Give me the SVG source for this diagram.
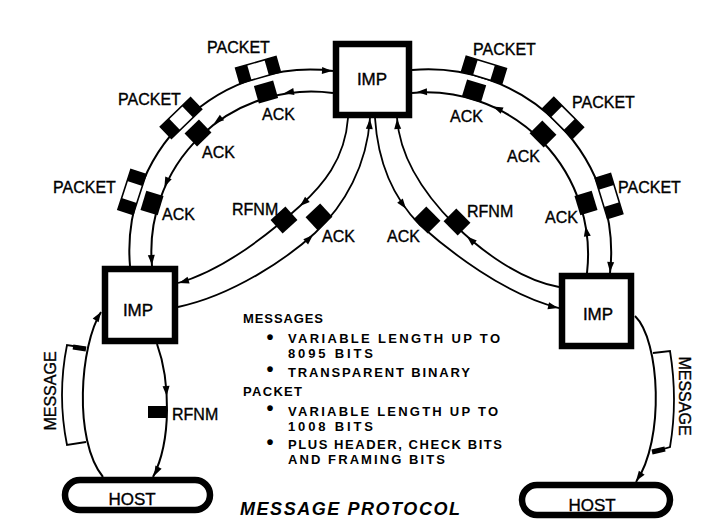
<svg xmlns="http://www.w3.org/2000/svg" width="721" height="519" viewBox="0 0 721 519">
<style>
.ln{fill:none;stroke:#000;stroke-width:2}
.ln2{fill:none;stroke:#000;stroke-width:1.8}
.box{fill:#fff;stroke:#000;stroke-width:6.5}
.lbl{font-family:"Liberation Sans",Arial,sans-serif;font-size:16px;fill:#000;stroke:#000;stroke-width:0.35}
.nm{font-family:"Liberation Sans",Arial,sans-serif;font-size:17px;fill:#000;stroke:#000;stroke-width:0.35;text-anchor:middle}
.blk{font-family:"Liberation Sans",Arial,sans-serif;font-size:13px;font-weight:bold;fill:#000}
.bul{font-family:"Liberation Sans",Arial,sans-serif;font-size:20px;font-weight:bold;fill:#000;text-anchor:middle}
.ttl{font-family:"Liberation Sans",Arial,sans-serif;font-size:18px;font-weight:bold;font-style:italic;fill:#000}
.thick{fill:none;stroke:#000;stroke-width:5}
</style>
<defs>
<path id="ah" d="M0,0 L-10,-3.5 L-10,3.5 Z" fill="#000"/>
<rect id="ack" x="-10" y="-9" width="20" height="18" fill="#000"/>
<g id="pkt">
<rect x="-21" y="-8" width="42" height="16" fill="#fff" stroke="#000" stroke-width="1.6"/>
<rect x="-21" y="-8" width="12" height="16" fill="#000"/>
<rect x="9" y="-8" width="12" height="16" fill="#000"/>
</g>
</defs>
<rect x="0" y="0" width="721" height="519" fill="#fff"/>

<g id="connectors">
<path class="ln" d="M333 71 A181 181 0 0 0 130 266"/>
<path class="ln" d="M333 93 A160 160 0 0 0 152 266"/>
<path class="ln" d="M412 70 A183 183 0 0 1 610 273"/>
<path class="ln" d="M412 93 A162 162 0 0 1 587 273"/>
<path class="ln2" d="M348 118 C345 160 322 186 300 206 C270 233 225 270 178 283"/>
<path class="ln2" d="M370 118 C367 165 345 205 315 233 C290 256 235 295 178 307"/>
<path class="ln2" d="M397 118 C400 160 425 195 455 225 C480 250 520 280 559 287"/>
<path class="ln2" d="M375 118 C378 165 395 200 420 225 C448 250 505 295 559 308"/>
<path class="ln" d="M103 477 C73 440 80 345 101 312"/>
<path class="ln" d="M157 344 C170 380 172 440 153 477"/>
<path class="ln" d="M635 316 C660 340 665 440 636 482"/>
<path class="ln2" d="M86 348 L67 345 Q57 395 67 445 L86 442"/>
<path class="thick" d="M73 347 L86 349"/>
<path class="ln2" d="M653 353 L670 351 Q678 400 670 447 L653 452"/>
<path class="thick" d="M652 452 L665 449"/>
<use href="#ah" transform="translate(332,71) rotate(3)"/>
<use href="#ah" transform="translate(284,93.3) rotate(170)"/>
<use href="#ah" transform="translate(214,123.5) rotate(143)"/>
<use href="#ah" transform="translate(164.4,187) rotate(114)"/>
<use href="#ah" transform="translate(152,265) rotate(86)"/>
<use href="#ah" transform="translate(610,272) rotate(94)"/>
<use href="#ah" transform="translate(417,92.1) rotate(178)"/>
<use href="#ah" transform="translate(493,106.5) rotate(-155.5)"/>
<use href="#ah" transform="translate(585.6,226.4) rotate(-100)"/>
<use href="#ah" transform="translate(300,206) rotate(138)"/>
<use href="#ah" transform="translate(179,283) rotate(163)"/>
<use href="#ah" transform="translate(313,235) rotate(-43)"/>
<use href="#ah" transform="translate(370,119) rotate(-86)"/>
<use href="#ah" transform="translate(467,236.5) rotate(-138)"/>
<use href="#ah" transform="translate(397,119) rotate(-94)"/>
<use href="#ah" transform="translate(406,208.7) rotate(53)"/>
<use href="#ah" transform="translate(558,308) rotate(13)"/>
<use href="#ah" transform="translate(101,312) rotate(-57.5)"/>
<use href="#ah" transform="translate(166.6,396) rotate(87)"/>
<use href="#ah" transform="translate(154,476) rotate(117)"/>
<use href="#ah" transform="translate(636,481) rotate(125)"/>
</g>

<g id="tokens">
<use href="#pkt" transform="translate(258,70) rotate(-16)"/>
<use href="#pkt" transform="translate(181,118) rotate(-44)"/>
<use href="#pkt" transform="translate(132,192) rotate(-72)"/>
<use href="#pkt" transform="translate(484,70) rotate(17)"/>
<use href="#pkt" transform="translate(563,118) rotate(45)"/>
<use href="#pkt" transform="translate(609,196) rotate(73)"/>
<use href="#ack" transform="translate(266,92) rotate(-16)"/>
<use href="#ack" transform="translate(198,133) rotate(-44)"/>
<use href="#ack" transform="translate(152,203) rotate(-73)"/>
<use href="#ack" transform="translate(474,91) rotate(17)"/>
<use href="#ack" transform="translate(543,134) rotate(45)"/>
<use href="#ack" transform="translate(586,203) rotate(73)"/>
<use href="#ack" transform="translate(284,220) rotate(-42)"/>
<use href="#ack" transform="translate(319,217) rotate(-43)"/>
<use href="#ack" transform="translate(457,222) rotate(45)"/>
<use href="#ack" transform="translate(427,220) rotate(45)"/>
<rect x="148" y="406" width="18" height="12" fill="#000"/>
</g>

<g id="labels">
<text class="lbl" x="207" y="53">PACKET</text>
<text class="lbl" x="118" y="105">PACKET</text>
<text class="lbl" x="53" y="193">PACKET</text>
<text class="lbl" x="262" y="120">ACK</text>
<text class="lbl" x="202" y="158">ACK</text>
<text class="lbl" x="162" y="220">ACK</text>
<text class="lbl" x="232" y="215">RFNM</text>
<text class="lbl" x="322" y="242">ACK</text>
<text class="lbl" x="473" y="55">PACKET</text>
<text class="lbl" x="572" y="108">PACKET</text>
<text class="lbl" x="618" y="193">PACKET</text>
<text class="lbl" x="450" y="122">ACK</text>
<text class="lbl" x="507" y="162">ACK</text>
<text class="lbl" x="545" y="223">ACK</text>
<text class="lbl" x="467" y="217">RFNM</text>
<text class="lbl" x="387" y="242">ACK</text>
<text class="lbl" x="172" y="420">RFNM</text>
<text class="lbl" text-anchor="middle" transform="translate(50,391) rotate(-90)" dy="6">MESSAGE</text>
<text class="lbl" text-anchor="middle" transform="translate(685,396) rotate(90)" dy="6">MESSAGE</text>
</g>

<g id="imp-top">
<rect class="box" x="336" y="44" width="73" height="71"/>
<text class="nm" x="372" y="85">IMP</text>
</g>
<g id="imp-left">
<rect class="box" x="105" y="269" width="70" height="72"/>
<text class="nm" x="138" y="316">IMP</text>
</g>
<g id="imp-right">
<rect class="box" x="562" y="276" width="69" height="70"/>
<text class="nm" x="598" y="320">IMP</text>
</g>
<g id="host-left">
<rect class="box" x="65" y="480" width="145" height="30" rx="15"/>
<text class="nm" x="132" y="505">HOST</text>
</g>
<g id="host-right">
<rect class="box" x="522" y="485" width="148" height="30" rx="15"/>
<text class="nm" x="592" y="511">HOST</text>
</g>

<g id="notes">
<text class="blk" x="243" y="323" textLength="80" lengthAdjust="spacing">MESSAGES</text>
<text class="bul" x="270" y="344">•</text>
<text class="blk" x="288" y="343" textLength="212" lengthAdjust="spacing">VARIABLE LENGTH UP TO</text>
<text class="blk" x="288" y="358" textLength="85" lengthAdjust="spacing">8095 BITS</text>
<text class="bul" x="270" y="376">•</text>
<text class="blk" x="288" y="377" textLength="182" lengthAdjust="spacing">TRANSPARENT BINARY</text>
<text class="blk" x="243" y="396" textLength="59" lengthAdjust="spacing">PACKET</text>
<text class="bul" x="270" y="415">•</text>
<text class="blk" x="288" y="416" textLength="210" lengthAdjust="spacing">VARIABLE LENGTH UP TO</text>
<text class="blk" x="288" y="431" textLength="85" lengthAdjust="spacing">1008 BITS</text>
<text class="bul" x="270" y="449">•</text>
<text class="blk" x="288" y="449" textLength="214" lengthAdjust="spacing">PLUS HEADER, CHECK BITS</text>
<text class="blk" x="288" y="464" textLength="157" lengthAdjust="spacing">AND FRAMING BITS</text>
<text class="ttl" x="240" y="515" textLength="220" lengthAdjust="spacing">MESSAGE PROTOCOL</text>
</g>
</svg>
